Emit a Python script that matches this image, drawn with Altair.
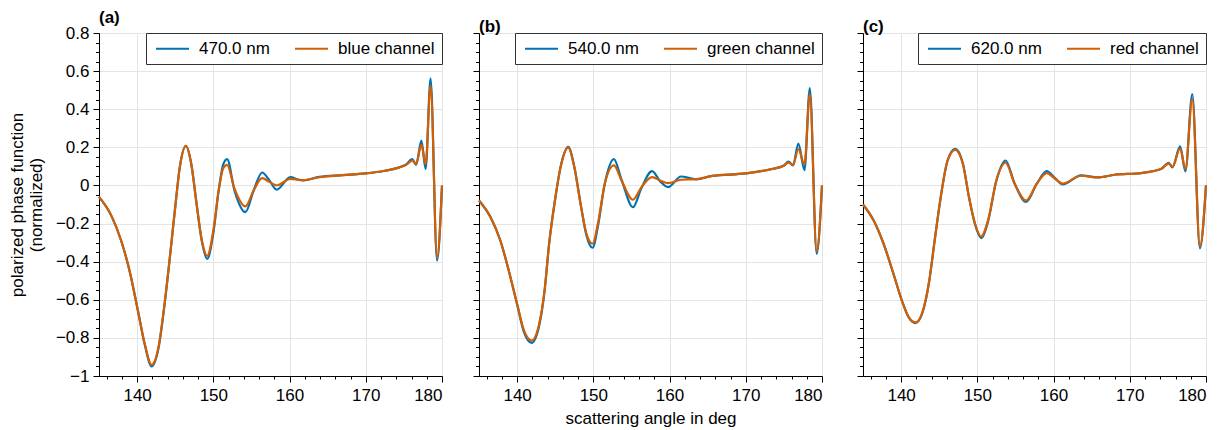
import altair as alt
import pandas as pd

BLUE = "#0072B2"
ORANGE = "#D55E00"
FONT = "Liberation Sans"
FS = 17

# ---------------- panel (a) ----------------
a_x = [135.0, 136.6, 137.9, 139.0, 140.1, 141.0, 141.9, 142.8, 143.6, 144.3, 145.0, 145.6,
       146.4, 147.1, 147.8, 148.5, 149.2, 150.0, 150.7, 151.3, 151.8, 152.8, 154.2, 155.3,
       156.4, 157.3, 158.3, 160.1, 161.2, 161.8, 163.9, 167.0, 170.0, 172.5, 174.4, 175.3,
       176.1, 176.6, 177.3, 177.85, 178.5, 179.35, 180.0]
a_blue = [-0.060, -0.157, -0.289, -0.446, -0.656, -0.835, -0.950, -0.855, -0.625, -0.376, -0.114, 0.096,
          0.208, 0.114, -0.096, -0.295, -0.385, -0.250, -0.026, 0.110, 0.138, -0.030, -0.140, -0.025,
          0.068, 0.030, -0.022, 0.044, 0.030, 0.027, 0.045, 0.054, 0.063, 0.077, 0.095, 0.110,
          0.138, 0.108, 0.235, 0.086, 0.562, -0.394, 0.000]
a_orange = [-0.060, -0.157, -0.289, -0.446, -0.656, -0.831, -0.941, -0.849, -0.621, -0.376, -0.114, 0.096,
            0.206, 0.114, -0.096, -0.289, -0.370, -0.236, -0.026, 0.090, 0.108, -0.020, -0.110, -0.025,
            0.038, 0.020, 0.000, 0.035, 0.030, 0.028, 0.043, 0.054, 0.063, 0.077, 0.095, 0.108,
            0.130, 0.112, 0.213, 0.112, 0.523, -0.377, 0.000]

# ---------------- panel (b) ----------------
b_x = [135.0, 136.5, 137.8, 138.9, 140.0, 140.9, 141.9, 142.9, 143.6, 144.2, 144.9, 145.8,
       146.7, 147.5, 148.4, 149.1, 149.9, 150.6, 151.5, 152.7, 153.7, 155.2, 156.3, 157.7,
       158.8, 159.8, 161.5, 163.5, 165.6, 170.0, 173.4, 175.0, 175.6, 176.2, 176.9, 177.7,
       178.4, 179.3, 180.0]
b_blue = [-0.079, -0.166, -0.289, -0.446, -0.625, -0.770, -0.826, -0.735, -0.555, -0.306, -0.096, 0.114,
          0.202, 0.100, -0.114, -0.262, -0.327, -0.215, 0.009, 0.138, 0.030, -0.114, -0.015, 0.075,
          0.020, -0.009, 0.047, 0.032, 0.050, 0.063, 0.086, 0.105, 0.125, 0.105, 0.220, 0.080,
          0.511, -0.359, 0.000]
b_orange = [-0.079, -0.166, -0.289, -0.446, -0.621, -0.761, -0.814, -0.726, -0.551, -0.306, -0.096, 0.114,
            0.198, 0.096, -0.114, -0.254, -0.306, -0.200, 0.009, 0.105, 0.026, -0.075, -0.010, 0.044,
            0.025, 0.012, 0.030, 0.033, 0.050, 0.063, 0.086, 0.103, 0.120, 0.108, 0.190, 0.112,
            0.479, -0.345, 0.000]

# ---------------- panel (c) ----------------
c_x = [135.0, 136.4, 137.7, 139.0, 140.1, 141.0, 141.9, 142.8, 143.7, 144.4, 145.2, 146.1,
       147.1, 148.1, 148.9, 149.7, 150.5, 151.4, 152.5, 153.7, 154.9, 156.4, 157.8, 159.1,
       160.2, 161.2, 163.6, 165.8, 168.0, 171.5, 174.1, 175.1, 175.6, 176.6, 177.3, 178.2,
       179.2, 180.0]
c_blue = [-0.100, -0.184, -0.306, -0.464, -0.604, -0.693, -0.722, -0.668, -0.499, -0.289, -0.061, 0.131,
          0.192, 0.116, -0.061, -0.205, -0.276, -0.190, 0.026, 0.131, 0.009, -0.087, 0.009, 0.075,
          0.038, 0.005, 0.053, 0.042, 0.056, 0.065, 0.086, 0.118, 0.095, 0.205, 0.074, 0.480,
          -0.330, 0.000]
c_orange = [-0.100, -0.184, -0.306, -0.464, -0.604, -0.691, -0.719, -0.665, -0.499, -0.289, -0.061, 0.131,
            0.187, 0.114, -0.061, -0.201, -0.268, -0.184, 0.026, 0.119, 0.009, -0.079, 0.009, 0.065,
            0.035, 0.010, 0.051, 0.042, 0.056, 0.065, 0.086, 0.115, 0.098, 0.194, 0.086, 0.453,
            -0.320, 0.000]

X_MAJOR = [140, 150, 160, 170, 180]
X_MINOR = [136, 138, 142, 144, 146, 148, 152, 154, 156, 158, 162, 164, 166, 168, 172, 174, 176, 178]
Y_MAJOR = [-1, -0.8, -0.6, -0.4, -0.2, 0, 0.2, 0.4, 0.6, 0.8]
Y_MINOR = [-0.95, -0.9, -0.85, -0.75, -0.7, -0.65, -0.55, -0.5, -0.45, -0.35, -0.3, -0.25,
           -0.15, -0.1, -0.05, 0.05, 0.1, 0.15, 0.25, 0.3, 0.35, 0.45, 0.5, 0.55, 0.65, 0.7, 0.75]

Y_TITLE = ["polarized phase function", "(normalized)"]
X_TITLE = "scattering angle in deg"


def panel(x, yb, yo, wl, ch, letter, first, middle):
    df = pd.DataFrame({
        "angle": list(x) + list(x),
        "value": list(yb) + list(yo),
        "series": [wl] * len(x) + [ch] * len(x),
    })
    color = alt.Color(
        "series:N",
        scale=alt.Scale(domain=[wl, ch], range=[BLUE, ORANGE]),
        legend=alt.Legend(
            title=None, orient="top-right", direction="horizontal", offset=0,
            strokeColor="#333", fillColor="white", padding=7, cornerRadius=0,
            symbolType="M-1,0H5", symbolSize=121, symbolStrokeWidth=2,
            labelOffset=29, columnPadding=21, labelFontSize=FS, labelFont=FONT,
            labelColor="black",
        ),
    )
    xs = alt.Scale(domain=[135, 180], nice=False, zero=False)
    ys = alt.Scale(domain=[-1, 0.8], nice=False, zero=False)
    base = alt.Chart(df)
    minor = base.transform_filter(alt.datum.series == wl).mark_line(
        interpolate="monotone", strokeWidth=2.2).encode(
        x=alt.X("angle:Q", scale=xs, axis=alt.Axis(
            values=X_MINOR, orient="bottom", labels=False, grid=False, domain=False,
            tickSize=3, title=None)),
        y=alt.Y("value:Q", scale=ys, axis=alt.Axis(
            values=Y_MINOR, orient="left", labels=False, grid=False, domain=False,
            tickSize=3.5, title=None)),
        color=color,
    )
    major = base.transform_filter(alt.datum.series == ch).mark_line(
        interpolate="monotone", strokeWidth=2.2).encode(
        x=alt.X("angle:Q", scale=xs, axis=alt.Axis(
            values=X_MAJOR, orient="bottom", grid=True, tickSize=6, labelPadding=5,
            format="d", title=X_TITLE if middle else None, titlePadding=7)),
        y=alt.Y("value:Q", scale=ys, axis=alt.Axis(
            values=Y_MAJOR, orient="left", grid=True, tickSize=6, labels=first,
            labelPadding=4, format="~g", title=Y_TITLE if first else None, titlePadding=10)),
        color=color,
    )
    return alt.layer(minor, major).resolve_axis(x="independent", y="independent").properties(
        width=343, height=343,
        title=alt.TitleParams(letter, anchor="start", frame="group", fontSize=FS, font=FONT,
                              fontWeight="bold", offset=-3, color="black"),
    )


pa = panel(a_x, a_blue, a_orange, "470.0 nm", "blue channel", "(a)", True, False)
pb = panel(b_x, b_blue, b_orange, "540.0 nm", "green channel", "(b)", False, True)
pc = panel(c_x, c_blue, c_orange, "620.0 nm", "red channel", "(c)", False, False)

left = alt.hconcat(pa, pb, spacing=25).resolve_scale(color="independent")
chart = alt.hconcat(left, pc, spacing=29).resolve_scale(color="independent").configure_axis(
    labelFont=FONT, titleFont=FONT, labelFontSize=FS, titleFontSize=FS,
    labelColor="black", titleColor="black", tickColor="black", domainColor="black",
    gridColor="#e4e4e4", titleFontWeight="normal", tickWidth=1, domainWidth=1,
).configure_view(stroke="#333", strokeWidth=1).properties(
    padding={"left": 7, "top": 8, "right": 5, "bottom": 2},
    background="white",
)

chart.save("out.html", embed_options={"renderer": "svg", "actions": False})
